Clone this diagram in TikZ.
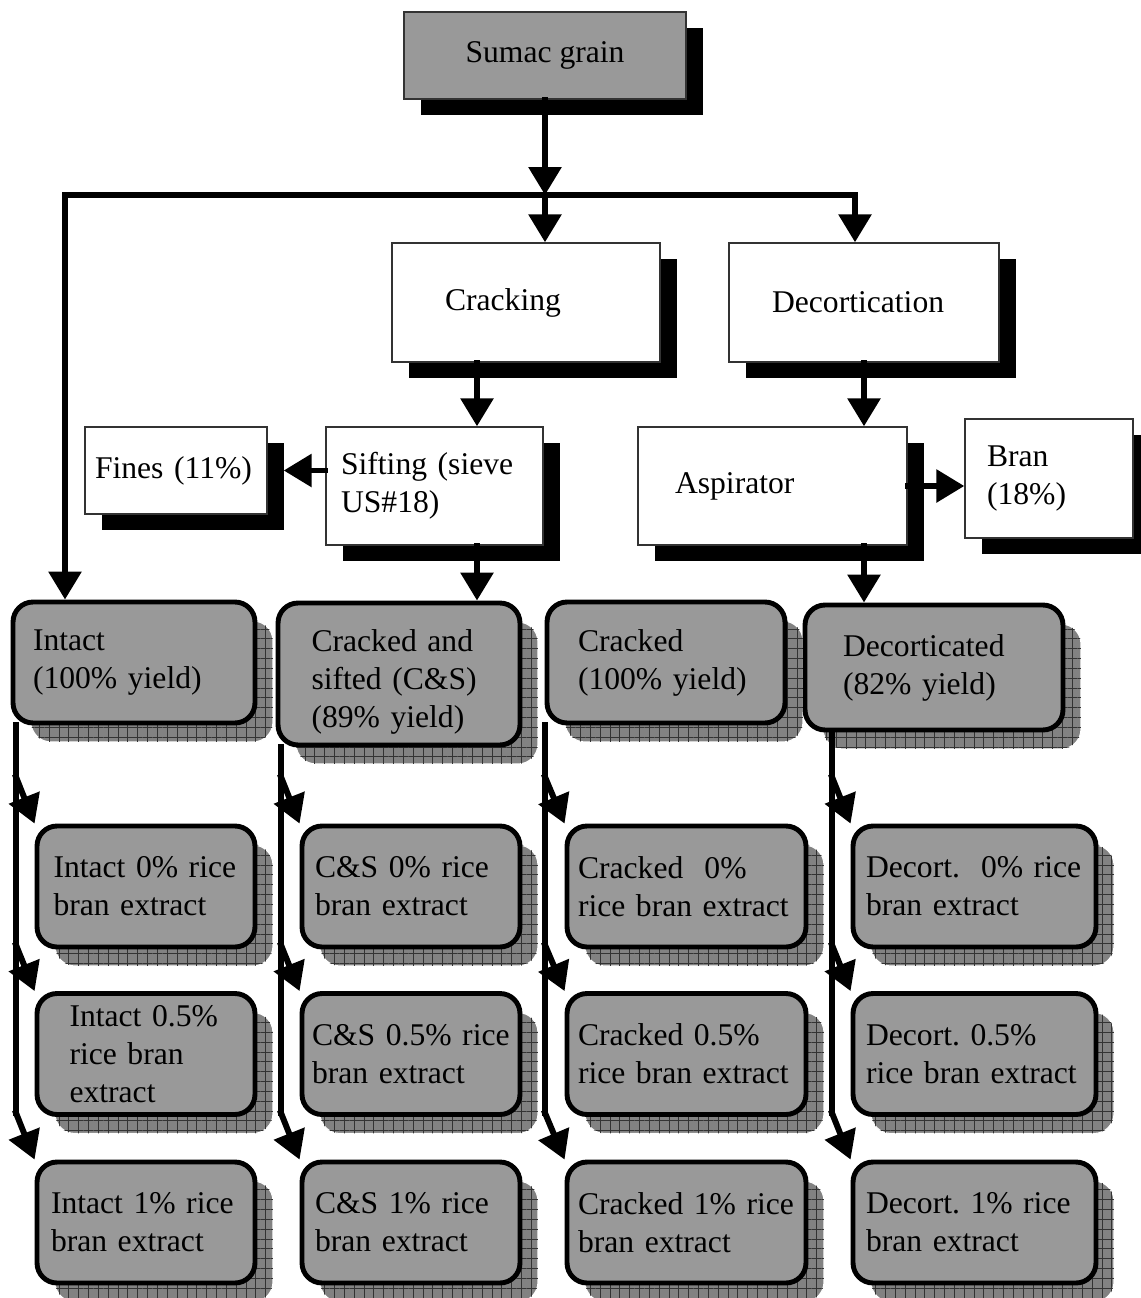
\documentclass[tikz,border=0pt]{standalone}
\usepackage{fontspec}
\setmainfont{Liberation Serif}
\usepackage{tikz}
\usetikzlibrary{arrows.meta,shadows,patterns.meta}
\definecolor{boxgray}{RGB}{153,153,153}
\definecolor{shadegray}{RGB}{130,130,130}
\tikzset{
    flowline/.style={
        line width=3.4pt,
        line cap=rect
    },
    flowarrow/.style={
        flowline,
        -{Triangle[length=0.56cm, width=0.64cm]}
    },
    % square boxes with a solid black shadow
    plainbox/.style={
        draw=black!80, line width=0.8pt, fill=white,
        align=left, inner ysep=0pt,
        general shadow={shadow xshift=0.34cm, shadow yshift=-0.32cm, fill=black}
    },
    sumacbox/.style={plainbox, fill=boxgray, align=center},
    % rounded grey boxes with a chequered shadow
    roundbox/.style={
        draw=black, line width=2.8pt, fill=boxgray, rounded corners=0.4cm,
        align=left, inner ysep=0pt, minimum height=2.42cm,
        general shadow={shadow xshift=0.36cm, shadow yshift=-0.38cm, fill=shadegray, draw=white, line width=0.6pt},
        general shadow={shadow xshift=0.36cm, shadow yshift=-0.38cm,
            pattern={Hatch[angle=0, distance=5.6pt, line width=0.5pt]}, pattern color=black!80}
    }
}

\begin{document}
\begin{tikzpicture}[x=0.02cm, y=-0.02cm, font=\fontsize{18}{21.6}\selectfont]
    \useasboundingbox (0,0) rectangle (1141,1298);

    \node[sumacbox, minimum width=5.64cm, minimum height=1.74cm] (sumac) at (545,55.5) {Sumac grain};

    \node[plainbox, minimum height=2.38cm, text width=3.24cm, inner xsep=1.06cm] (crack) at (526,302.5) {Cracking};
    \node[plainbox, minimum height=2.38cm, text width=3.68cm, inner xsep=0.86cm] (decort) at (864,302.5) {Decortication};
    \node[plainbox, minimum height=2.36cm, text width=3.74cm, inner xsep=0.30cm] (sift) at (434.5,486) {Sifting (sieve\\US\#18)};
    \node[plainbox, minimum height=1.74cm, text width=3.24cm, inner xsep=0.20cm] (fines) at (176,470.5) {Fines (11\%)};
    \node[plainbox, minimum height=2.36cm, text width=3.90cm, inner xsep=0.74cm] (aspir) at (772.5,486) {Aspirator};
    \node[plainbox, minimum height=2.38cm, text width=2.48cm, inner xsep=0.44cm] (bran) at (1049,478.5) {Bran\\(18\%)};

    \node[roundbox, text width=4.04cm, inner xsep=0.40cm] (intact) at (134,662.5) {Intact\\(100\% yield)};
    \node[roundbox, minimum height=2.84cm, text width=3.50cm, inner xsep=0.67cm] (cands) at (399,674) {\rule{0pt}{22pt}Cracked and\\sifted (C\&S)\\(89\% yield)};
    \node[roundbox, text width=3.52cm, inner xsep=0.62cm] (crk) at (666,662.5) {Cracked\\(100\% yield)};
    \node[roundbox, minimum height=2.5cm, text width=3.64cm, inner xsep=0.76cm] (dec) at (934,667.5) {Decorticated\\(82\% yield)};

    \node[roundbox, text width=3.70cm, inner xsep=0.33cm] (in0) at (146,886.5) {Intact 0\% rice\\bran extract};
    \node[roundbox, text width=3.06cm, inner xsep=0.65cm] (in5) at (146,1054) {Intact 0.5\%\\rice bran\\extract};
    \node[roundbox, text width=3.80cm, inner xsep=0.28cm] (in1) at (146,1222.5) {Intact 1\% rice\\bran extract};

    \node[roundbox, text width=3.84cm, inner xsep=0.26cm] (cs0) at (411,886.5) {C\&S 0\% rice\\bran extract};
    \node[roundbox, text width=3.96cm, inner xsep=0.20cm] (cs5) at (411,1054) {C\&S 0.5\% rice\\bran extract};
    \node[roundbox, text width=3.84cm, inner xsep=0.26cm] (cs1) at (411,1222.5) {C\&S 1\% rice\\bran extract};

    \node[roundbox, text width=4.34cm, inner xsep=0.22cm] (ck0) at (686.5,886.5) {Cracked~~0\%\\rice bran extract};
    \node[roundbox, text width=4.34cm, inner xsep=0.22cm] (ck5) at (686.5,1054) {Cracked 0.5\%\\rice bran extract};
    \node[roundbox, text width=4.34cm, inner xsep=0.22cm] (ck1) at (686.5,1222.5) {Cracked 1\% rice\\bran extract};

    \node[roundbox, text width=4.34cm, inner xsep=0.26cm] (dc0) at (974.5,886.5) {Decort.~~0\% rice\\bran extract};
    \node[roundbox, text width=4.34cm, inner xsep=0.26cm] (dc5) at (974.5,1054) {Decort.\ 0.5\%\\rice bran extract};
    \node[roundbox, text width=4.34cm, inner xsep=0.26cm] (dc1) at (974.5,1222.5) {Decort.\ 1\% rice\\bran extract};

    \coordinate (split) at (545,195);
    \coordinate (lt) at (65,195);
    \coordinate (rt) at (855,195);
    \coordinate (cx) at (477,400);

    \draw[flowarrow] (sumac.south) -- (split);
    \draw[flowarrow] (rt) -- (lt) -- (lt |- intact.north);
    \draw[flowarrow] (split) -- (split |- crack.north);
    \draw[flowarrow] (rt) -- (rt |- decort.north);
    \draw[flowarrow] (cx |- crack.south) -- (cx |- sift.north);
    \draw[flowarrow] (cx |- sift.south) -- (cx |- cands.north);
    \draw[flowarrow] (sift.west |- fines.east) -- ([xshift=0.32cm]fines.east);
    \draw[flowarrow] (decort.south) -- (decort.south |- aspir.north);
    \draw[flowarrow] (aspir.east) -- (bran.west |- aspir.east);
    \draw[flowarrow] (decort.south |- aspir.south) -- (decort.south |- dec.north);

    \foreach \colnode/\tx/\rw in {intact/16/in, cands/281/cs, crk/545/ck, dec/832/dc}{
        \coordinate (\rw-a) at (\tx,777);
        \coordinate (\rw-b) at (\tx,945);
        \coordinate (\rw-c) at (\tx,1113);
        \draw[flowline] (\colnode.south -| \rw-a) -- (\rw-c);
        \draw[flowarrow] (\rw-a) -- (\rw0.north west);
        \draw[flowarrow] (\rw-b) -- (\rw5.north west);
        \draw[flowarrow] (\rw-c) -- (\rw1.north west);
    }
\end{tikzpicture}
\end{document}
